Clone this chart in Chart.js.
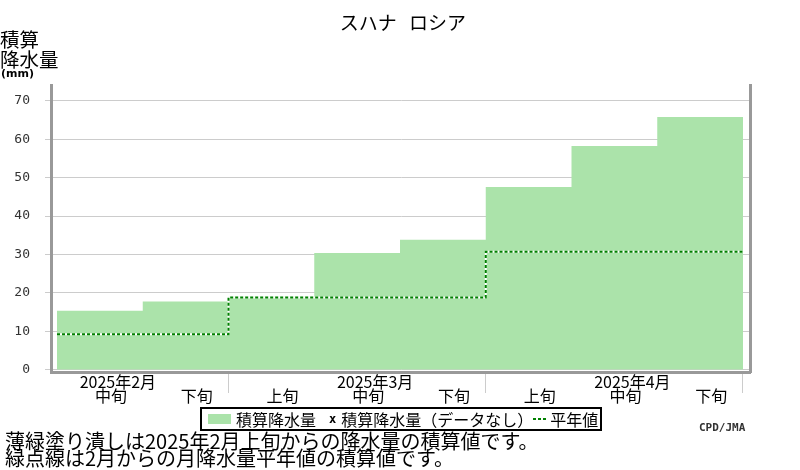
<!DOCTYPE html>
<html><head><meta charset="utf-8">
<script src="https://cdn.jsdelivr.net/npm/chart.js@4.4.1/dist/chart.umd.min.js"></script>
<style>
html,body{margin:0;padding:0;background:#fff;}
#wrap{position:relative;width:800px;height:470px;overflow:hidden;font-family:"Noto Sans CJK JP",sans-serif;color:#000;background:#fff;}
canvas{position:absolute;left:0;top:0;}
.t{position:absolute;white-space:nowrap;}
#legend{left:200px;top:407px;width:398px;height:20px;border:2px solid #000;display:flex;align-items:center;font-size:16px;line-height:20px;}
#legend .sw{width:23px;height:10px;margin-left:6px;margin-right:5px;}
#legend .x{font:bold 12px "DejaVu Sans Mono",monospace;margin-left:13px;margin-right:5px;}
#legend .dl{width:14px;height:2px;margin-right:3px;background:repeating-linear-gradient(90deg,#008000 0 3px,#fff 3px 5px);}
</style></head><body>
<div id="wrap">
<canvas id="c" width="800" height="470"></canvas>
<div class="t" id="title" style="left:0;width:806px;top:12px;text-align:center;font-size:19px;line-height:20px;word-spacing:8px;"></div>
<div class="t" id="ytitle" style="left:0;top:29px;font-size:19.5px;line-height:20px;"></div>
<div class="t" id="yunit" style="left:1px;top:67px;font:bold 11px 'DejaVu Sans',sans-serif;"></div>
<div class="t" id="legend"></div>
<div class="t" id="notes" style="left:5px;top:432px;font-size:20px;line-height:17px;"></div>
<div class="t" id="credit" style="left:699px;top:421px;font:bold 11px 'DejaVu Sans Mono',monospace;color:#333;"></div>
</div>
<script>
// ---- data ----
const chartTitle = 'スハナ ロシア';
const yTitleLines = ['積算', '降水量'];
const yUnit = '(mm)';
const dekadLabels = ['中旬', '下旬', '上旬', '中旬', '下旬', '上旬', '中旬', '下旬'];
const monthLabels = ['2025年2月', '2025年3月', '2025年4月'];
const monthDekadCounts = [2, 3, 3];
const accumPrecip = [15.3, 17.7, 19.0, 30.4, 33.8, 47.6, 58.3, 65.8];
const normalAccum = [9.2, 18.8, 30.7];
const yTickValues = [0, 10, 20, 30, 40, 50, 60, 70];
const seriesLabels = ['積算降水量', '積算降水量（データなし）', '平年値'];
const noteLines = ['薄緑塗り潰しは2025年2月上旬からの降水量の積算値です。', '緑点線は2月からの月降水量平年値の積算値です。'];
const creditText = 'CPD/JMA';

// ---- layout constants ----
const DEKAD_LABEL_OFFSET = 0.63;
const MONTH_LABEL_OFFSET = 0.71;
const X_MIN = -0.07, X_MAX = 8.0875;
const Y_MIN = -0.65, Y_MAX = 74.17;
const GREEN_FILL = '#abe3aa';
const NORMAL_GREEN = '#008000';
const AXIS_GRAY = '#999999';
const GRID_GRAY = '#cccccc';

// ---- build series ----
const nDekads = accumPrecip.length;
const precipPoints = accumPrecip.map((v, i) => ({x: i, y: v}));
precipPoints.push({x: nDekads, y: accumPrecip[nDekads - 1]});

const monthStarts = [];
let acc = 0;
monthDekadCounts.forEach(n => { monthStarts.push(acc); acc += n; });
const monthEnds = monthStarts.map((s, m) => s + monthDekadCounts[m]);
const normalPoints = normalAccum.map((v, m) => ({x: monthStarts[m], y: v}));
normalPoints.push({x: monthEnds[monthEnds.length - 1], y: normalAccum[normalAccum.length - 1]});

// x ticks: month labels (line 1), dekad labels (line 2), month boundary marks
const xTickItems = [];
dekadLabels.forEach((lab, i) => xTickItems.push({value: i + DEKAD_LABEL_OFFSET, label: ['', lab], boundary: false}));
monthDekadCounts.forEach((n, m) => {
  for (let k = monthStarts[m]; k < monthStarts[m] + n; k++) {
    if (dekadLabels[k] === '中旬') xTickItems.push({value: k + MONTH_LABEL_OFFSET, label: [monthLabels[m], ''], boundary: false});
  }
});
monthEnds.forEach(e => xTickItems.push({value: e, label: '', boundary: true}));
xTickItems.sort((a, b) => a.value - b.value);

const cjk = '"Noto Sans CJK JP", sans-serif';

const chart = new Chart(document.getElementById('c'), {
  type: 'line',
  data: {
    datasets: [
      {label: seriesLabels[2], legendKind: 'dash', data: normalPoints, stepped: 'before', borderColor: NORMAL_GREEN, borderWidth: 2, borderDash: [3, 2], pointRadius: 0, fill: false, order: 0},
      {label: '', data: normalPoints, stepped: 'before', borderColor: '#ffffff', borderWidth: 2, pointRadius: 0, fill: false, order: 1},
      {label: seriesLabels[1], legendKind: 'cross', data: [], pointStyle: 'crossRot', borderColor: '#000', pointRadius: 0, order: 2},
      {label: seriesLabels[0], legendKind: 'box', data: precipPoints, stepped: 'before', backgroundColor: GREEN_FILL, borderColor: GREEN_FILL, borderWidth: 0, pointRadius: 0, fill: 'origin', order: 3}
    ]
  },
  options: {
    responsive: false,
    animation: false,
    devicePixelRatio: 1,
    layout: {padding: {top: 85, left: 0, right: 0, bottom: 0}},
    plugins: {legend: {display: false}, title: {display: false}, tooltip: {enabled: false}},
    scales: {
      x: {
        type: 'linear', position: 'bottom', min: X_MIN, max: X_MAX,
        afterBuildTicks: s => { s.ticks = xTickItems.map(t => ({value: t.value})); },
        afterFit: s => { s.height = 98; },
        ticks: {autoSkip: false, maxRotation: 0, minRotation: 0, padding: -17.75, color: '#000',
          font: {family: cjk, size: 16, lineHeight: 0.84375},
          callback: (v, i) => xTickItems[i] ? xTickItems[i].label : ''},
        grid: {drawOnChartArea: false, drawTicks: true, tickLength: 21, lineWidth: 1,
          color: ctx => (xTickItems[ctx.index] && xTickItems[ctx.index].boundary) ? GRID_GRAY : 'rgba(0,0,0,0)'},
        border: {display: true, color: AXIS_GRAY, width: 3, z: 1}
      },
      y: {
        type: 'linear', position: 'left', min: Y_MIN, max: Y_MAX,
        afterBuildTicks: s => { s.ticks = yTickValues.map(v => ({value: v})); },
        afterFit: s => { s.width = 51; },
        ticks: {padding: 15, color: '#333', font: {family: '"DejaVu Sans Mono", monospace', size: 13}, callback: v => String(v)},
        grid: {color: GRID_GRAY, lineWidth: 1, tickLength: 6, drawTicks: true},
        border: {display: true, color: AXIS_GRAY, width: 3, z: 1}
      },
      yR: {
        type: 'linear', position: 'right', min: Y_MIN, max: Y_MAX,
        afterFit: s => { s.width = 49.5; },
        ticks: {display: false},
        grid: {display: false, drawTicks: false},
        border: {display: true, color: AXIS_GRAY, width: 3, z: 1}
      }
    }
  }
});

// ---- texts ----
document.getElementById('title').textContent = chartTitle;
document.getElementById('ytitle').innerHTML = yTitleLines.join('<br>');
document.getElementById('yunit').textContent = yUnit;
document.getElementById('notes').innerHTML = noteLines.join('<br>');
document.getElementById('credit').textContent = creditText;

// ---- legend from datasets ----
const leg = document.getElementById('legend');
const kindsOrder = ['box', 'cross', 'dash'];
kindsOrder.forEach(kind => {
  const ds = chart.data.datasets.find(d => d.legendKind === kind);
  if (!ds) return;
  const mark = document.createElement('span');
  if (kind === 'box') { mark.className = 'sw'; mark.style.background = ds.backgroundColor; }
  else if (kind === 'cross') { mark.className = 'x'; mark.textContent = 'x'; }
  else { mark.className = 'dl'; }
  leg.appendChild(mark);
  const txt = document.createElement('span');
  txt.textContent = ds.label;
  leg.appendChild(txt);
});
</script>
</body></html>
